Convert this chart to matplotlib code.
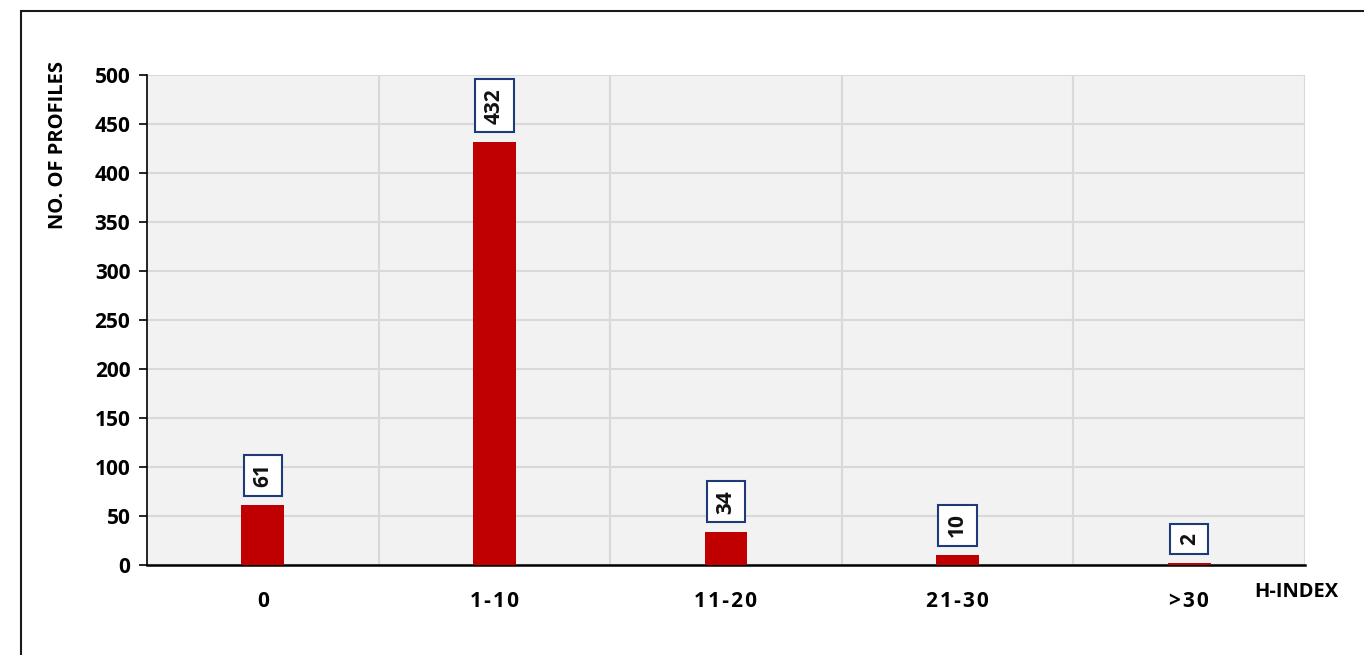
import matplotlib
matplotlib.use('Agg')
import matplotlib.pyplot as plt
from matplotlib.patches import Rectangle

# data
categories = ['0', '1-10', '11-20', '21-30', '>30']
profiles = [61, 432, 34, 10, 2]
y_ticks = [0, 50, 100, 150, 200, 250, 300, 350, 400, 450, 500]

plt.rcParams['font.family'] = ['Open Sans', 'DejaVu Sans']

fig = plt.figure(figsize=(13.64, 6.55), dpi=100)
ax = fig.add_axes([147/1364, 1 - 565/655, (1305 - 147)/1364, (565 - 75)/655])

# outer frame of the chart area (runs off the right and bottom edge)
fig.patches.append(Rectangle((21/1364, -0.05), 1.1, 1 - 11/655 + 0.05,
                             transform=fig.transFigure, fill=False,
                             edgecolor='#1a1a1a', linewidth=1.5))

x = list(range(len(categories)))
ax.bar(x, profiles, width=0.185, color='#c00000', zorder=3)

# value labels in boxes, rotated
for xi, v in zip(x, profiles):
    ax.annotate(str(v), (xi, v), xytext=(0, 13), textcoords='offset points',
                rotation=90, ha='center', va='bottom', fontsize=15,
                fontweight='bold', color='#111111', zorder=4,
                bbox=dict(boxstyle='square,pad=0.42', facecolor='white',
                          edgecolor='#1f3a78', linewidth=1.5))

ax.set_xlim(-0.5, 4.5)
ax.set_ylim(0, 500)
ax.set_yticks(y_ticks)
ax.set_xticks(x)
ax.set_xticklabels(['\u200a'.join(c) for c in categories], fontsize=15,
                   fontweight='bold')
ax.set_yticklabels([str(t) for t in y_ticks], fontsize=15, fontweight='bold')
ax.tick_params(axis='x', length=0, pad=19)
ax.tick_params(axis='y', length=6, width=1.2, direction='out', pad=6)

# vertical lines between categories + horizontal grid
ax.set_facecolor('#f2f2f2')
ax.set_xticks([0.5, 1.5, 2.5, 3.5, 4.5], minor=True)
ax.tick_params(axis='x', which='minor', length=0)
ax.grid(True, which='minor', axis='x', color='#d9d9d9', linewidth=1.5, zorder=0)
ax.grid(True, which='major', axis='y', color='#d9d9d9', linewidth=1.5, zorder=0)
ax.set_axisbelow(True)

for s in ['top', 'right']:
    ax.spines[s].set_visible(False)
ax.spines['left'].set_linewidth(1.2)
ax.spines['bottom'].set_linewidth(1.8)

fig.text(58/1364, 1 - 145/655, 'NO. OF PROFILES', fontsize=14.5,
         fontweight='bold', rotation=90, ha='center', va='center')
fig.text(1296/1364, 1 - 592/655, 'H-INDEX', fontsize=14.5, fontweight='bold',
         ha='center', va='center')

plt.savefig('out.png', dpi=100)
